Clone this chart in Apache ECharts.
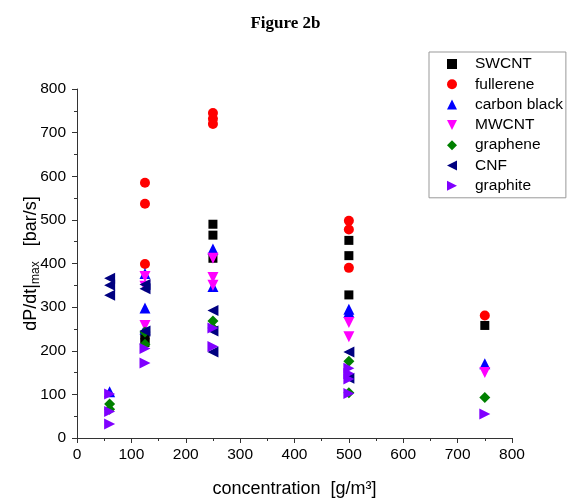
<!DOCTYPE html>
<html>
<head>
<meta charset="utf-8">
<script src="https://cdn.jsdelivr.net/npm/echarts@6/dist/echarts.min.js"></script>
<style>html,body{margin:0;padding:0;background:#fff}#c{width:571px;height:499px}</style>
</head>
<body>
<div id="c"></div>
<script>
const seriesNames = ['SWCNT', 'fullerene', 'carbon black', 'MWCNT', 'graphene', 'CNF', 'graphite'];
const swcnt = [[125,236],[125,228],[125,219],[250,490],[250,465],[250,412],[500,453],[500,418],[500,328],[750,258]];
const fullerene = [[125,585],[125,537],[125,399],[250,745],[250,732],[250,720],[500,498],[500,478],[500,390],[750,281]];
const carbonBlack = [[60,106],[125,377],[125,298],[125,250],[250,433],[250,347],[500,295],[500,288],[750,170]];
const mwcnt = [[125,370],[125,348],[125,258],[250,412],[250,368],[250,350],[500,265],[500,232],[750,150]];
const graphene = [[60,78],[60,66],[125,243],[125,215],[250,268],[250,252],[500,176],[500,104],[750,93]];
const cnf = [[60,366],[60,350],[60,327],[125,352],[125,342],[125,245],[250,292],[250,245],[250,197],[500,197],[500,137]];
const graphite = [[60,101],[60,61],[60,32],[125,205],[125,172],[250,252],[250,210],[500,160],[500,148],[500,135],[500,102],[750,55]];
const xTicks = [0,100,200,300,400,500,600,700,800];
const yTicks = [0,100,200,300,400,500,600,700,800];

const styles = [
  {data: swcnt, symbol: 'rect', rot: 0, color: '#000000', size: 9, icon: 'rect'},
  {data: fullerene, symbol: 'circle', rot: 0, color: '#ff0000', size: 10, icon: 'circle'},
  {data: carbonBlack, symbol: 'triangle', rot: 0, color: '#0000ff', size: 11, icon: 'path://M5,0L10,10L0,10Z'},
  {data: mwcnt, symbol: 'triangle', rot: 180, color: '#ff00ff', size: 11, icon: 'path://M0,0L10,0L5,10Z'},
  {data: graphene, symbol: 'diamond', rot: 0, color: '#008000', size: 11, icon: 'diamond'},
  {data: cnf, symbol: 'triangle', rot: 90, color: '#000080', size: 11, icon: 'path://M10,0L10,10L0,5Z'},
  {data: graphite, symbol: 'triangle', rot: -90, color: '#8000ff', size: 11, icon: 'path://M0,0L0,10L10,5Z'}
];

const chart = echarts.init(document.getElementById('c'));
const font = 'Liberation Sans, Arial, sans-serif';
chart.setOption({
  animation: false,
  backgroundColor: '#fff',
  title: {
    text: 'Figure 2b', left: 'center', top: 10,
    textStyle: {fontFamily: 'Liberation Serif, Times New Roman, serif', fontWeight: 'bold', fontSize: 17, color: '#000'}
  },
  grid: {left: 77, right: 59, top: 89, bottom: 61, outerBoundsMode: 'none', containLabel: false},
  legend: {
    orient: 'vertical', left: 429, top: 52,
    padding: [3, 3, 3, 18],
    itemWidth: 10, itemHeight: 10, itemGap: 2.3,
    borderColor: '#999', borderWidth: 1, backgroundColor: '#fff',
    textStyle: {fontFamily: font, fontSize: 15.5, color: '#000', padding: [0, 0, 0, 13], lineHeight: 18},
    data: seriesNames.map((n, i) => ({name: n, icon: styles[i].icon}))
  },
  xAxis: {
    type: 'value', min: xTicks[0], max: xTicks[xTicks.length-1], interval: 100,
    name: 'concentration  [g/m³]', nameLocation: 'middle', nameGap: 42, nameMoveOverlap: false,
    nameTextStyle: {fontFamily: font, fontSize: 18, color: '#000'},
    axisLine: {show: true, lineStyle: {color: '#333', width: 1}},
    axisTick: {show: true, inside: false, length: 5, lineStyle: {color: '#333'}},
    minorTick: {show: true, splitNumber: 2, length: 3, lineStyle: {color: '#333'}},
    axisLabel: {fontFamily: font, fontSize: 15.5, color: '#000', margin: 9},
    splitLine: {show: false}
  },
  yAxis: {
    type: 'value', min: yTicks[0], max: yTicks[yTicks.length-1], interval: 100,
    name: '{a|dP/dt|}{s|max}{a|   [bar/s]}', nameLocation: 'middle', nameGap: 35, nameMoveOverlap: false,
    nameTextStyle: {
      fontFamily: font, color: '#000',
      rich: {
        a: {fontFamily: font, fontSize: 18, color: '#000', lineHeight: 22},
        s: {fontFamily: font, fontSize: 12, color: '#000', lineHeight: 22, verticalAlign: 'bottom', padding: [7, 0, 0, 0]}
      }
    },
    axisLine: {show: true, lineStyle: {color: '#333', width: 1}},
    axisTick: {show: true, inside: false, length: 5, lineStyle: {color: '#333'}},
    minorTick: {show: true, splitNumber: 2, length: 3, lineStyle: {color: '#333'}},
    axisLabel: {fontFamily: font, fontSize: 15.5, color: '#000', margin: 11},
    splitLine: {show: false}
  },
  series: styles.map((s, i) => ({
    name: seriesNames[i], type: 'scatter', data: s.data,
    symbol: s.symbol, symbolRotate: s.rot, symbolSize: s.size,
    itemStyle: {color: s.color, opacity: 1}
  }))
});
</script>
</body>
</html>
